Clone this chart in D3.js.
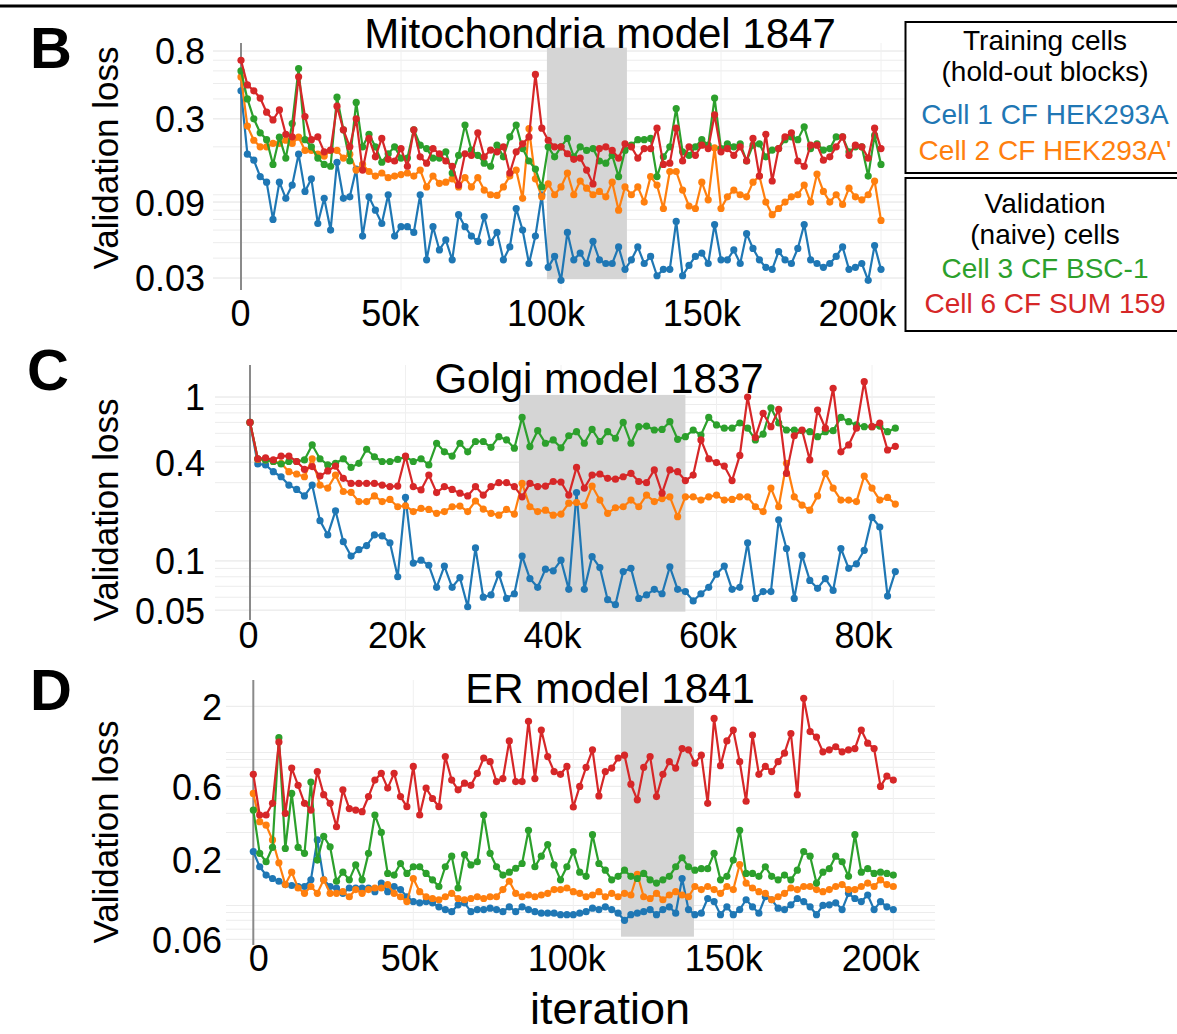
<!DOCTYPE html>
<html>
<head>
<meta charset="utf-8">
<script src="https://cdn.jsdelivr.net/npm/d3@7.9.0/dist/d3.min.js"></script>
<style>
  body { margin: 0; background: #fff; }
  svg text { font-family: "Liberation Sans", Arial, Helvetica, sans-serif; }
</style>
</head>
<body>
<svg id="fig" width="1177" height="1034"></svg>
<script>
// legend / series
const cellNames = ['Cell 1 CF HEK293A', "Cell 2 CF HEK293A'", 'Cell 3 CF BSC-1', 'Cell 6 CF SUM 159'];
const cellColors = ['#1f77b4', '#ff7f0e', '#2ca02c', '#d62728'];

// ---- B: Mitochondria model 1847 (every 2k iterations)
const mitoIter = d3.range(0, 200001, 2000);
const mitoCell1 = [
  0.45, 0.18, 0.165, 0.13, 0.12, 0.07, 0.12, 0.095, 0.115, 0.18,
  0.105, 0.126, 0.066, 0.095, 0.06, 0.16, 0.095, 0.097, 0.145, 0.055,
  0.097, 0.08, 0.066, 0.1, 0.055, 0.063, 0.063, 0.058, 0.1, 0.039,
  0.063, 0.045, 0.052, 0.039, 0.075, 0.063, 0.055, 0.051, 0.073, 0.05,
  0.058, 0.039, 0.047, 0.082, 0.06, 0.037, 0.055, 0.1, 0.035, 0.041,
  0.029, 0.058, 0.039, 0.043, 0.037, 0.051, 0.039, 0.037, 0.037, 0.047,
  0.034, 0.039, 0.047, 0.037, 0.041, 0.031, 0.034, 0.034, 0.068, 0.031,
  0.036, 0.041, 0.043, 0.037, 0.065, 0.039, 0.039, 0.045, 0.037, 0.057,
  0.046, 0.039, 0.035, 0.034, 0.044, 0.039, 0.037, 0.046, 0.065, 0.039,
  0.037, 0.035, 0.037, 0.041, 0.047, 0.034, 0.035, 0.037, 0.029, 0.048,
  0.034
];
const mitoCell2 = [
  0.55, 0.27, 0.22, 0.2, 0.2, 0.21, 0.21, 0.22, 0.21, 0.23,
  0.19, 0.19, 0.18, 0.175, 0.19, 0.19, 0.17, 0.18, 0.143, 0.155,
  0.14, 0.131, 0.137, 0.128, 0.131, 0.134, 0.137, 0.131, 0.143, 0.112,
  0.131, 0.118, 0.12, 0.126, 0.112, 0.128, 0.112, 0.128, 0.107, 0.1,
  0.099, 0.112, 0.131, 0.143, 0.095, 0.26, 0.126, 0.097, 0.117, 0.1,
  0.112, 0.137, 0.1, 0.122, 0.11, 0.1, 0.105, 0.097, 0.12, 0.08,
  0.112, 0.1, 0.112, 0.09, 0.13, 0.115, 0.082, 0.14, 0.14, 0.107,
  0.085, 0.082, 0.12, 0.093, 0.197, 0.082, 0.097, 0.107, 0.1, 0.097,
  0.12, 0.131, 0.09, 0.075, 0.082, 0.09, 0.097, 0.1, 0.115, 0.09,
  0.135, 0.105, 0.09, 0.1, 0.087, 0.11, 0.097, 0.093, 0.1, 0.122,
  0.069
];
const mitoCell3 = [
  0.6, 0.4, 0.3, 0.245, 0.222, 0.155, 0.23, 0.17, 0.28, 0.62,
  0.222, 0.2, 0.17, 0.155, 0.151, 0.41, 0.256, 0.163, 0.38, 0.2,
  0.24, 0.2, 0.16, 0.181, 0.2, 0.17, 0.17, 0.256, 0.205, 0.195,
  0.17, 0.17, 0.186, 0.137, 0.177, 0.274, 0.191, 0.177, 0.158, 0.151,
  0.205, 0.173, 0.231, 0.274, 0.195, 0.163, 0.145, 0.112, 0.2, 0.173,
  0.2, 0.226, 0.173, 0.2, 0.19, 0.195, 0.163, 0.158, 0.177, 0.13,
  0.19, 0.205, 0.222, 0.222, 0.226, 0.13, 0.173, 0.2, 0.348, 0.186,
  0.177, 0.2, 0.222, 0.205, 0.405, 0.195, 0.209, 0.2, 0.209, 0.163,
  0.205, 0.209, 0.173, 0.191, 0.195, 0.222, 0.231, 0.222, 0.267, 0.195,
  0.209, 0.191, 0.195, 0.231, 0.231, 0.186, 0.2, 0.2, 0.131, 0.236,
  0.155
];
const mitoCell6 = [
  0.7, 0.49, 0.45, 0.405, 0.33, 0.295, 0.341, 0.24, 0.231, 0.551,
  0.31, 0.222, 0.231, 0.186, 0.191, 0.36, 0.256, 0.2, 0.3, 0.143,
  0.226, 0.173, 0.226, 0.167, 0.163, 0.195, 0.151, 0.256, 0.173, 0.158,
  0.195, 0.181, 0.163, 0.151, 0.115, 0.181, 0.177, 0.245, 0.173, 0.191,
  0.186, 0.2, 0.137, 0.186, 0.209, 0.231, 0.57, 0.262, 0.22, 0.2,
  0.2, 0.181, 0.167, 0.17, 0.143, 0.117, 0.195, 0.2, 0.19, 0.17,
  0.209, 0.2, 0.17, 0.195, 0.195, 0.262, 0.155, 0.158, 0.262, 0.163,
  0.2, 0.177, 0.205, 0.195, 0.318, 0.186, 0.195, 0.177, 0.2, 0.163,
  0.226, 0.131, 0.24, 0.122, 0.195, 0.231, 0.245, 0.163, 0.151, 0.205,
  0.205, 0.165, 0.173, 0.2, 0.231, 0.177, 0.205, 0.2, 0.17, 0.262,
  0.195
];
const mitoTicksX = [0, 50000, 100000, 150000, 200000];
const mitoTicksY = [0.03, 0.09, 0.3, 0.8];
const mitoHoldout = [95600, 120600];

// ---- C: Golgi model 1837 (every 1k iterations)
const golgiIter = d3.range(0, 83001, 1000);
const golgiCell1 = [
  0.70, 0.39, 0.385, 0.35, 0.326, 0.29, 0.273, 0.249, 0.29, 0.176,
  0.144, 0.202, 0.131, 0.107, 0.117, 0.124, 0.144, 0.142, 0.129, 0.08,
  0.244, 0.097, 0.101, 0.094, 0.069, 0.093, 0.069, 0.079, 0.0525, 0.12,
  0.06, 0.062, 0.083, 0.059, 0.063, 0.107, 0.078, 0.069, 0.089, 0.087,
  0.101, 0.067, 0.261, 0.067, 0.106, 0.091, 0.058, 0.054, 0.086, 0.09,
  0.059, 0.062, 0.067, 0.063, 0.092, 0.067, 0.065, 0.057, 0.063, 0.069,
  0.083, 0.093, 0.067, 0.069, 0.129, 0.059, 0.065, 0.065, 0.178, 0.119,
  0.059, 0.108, 0.076, 0.068, 0.078, 0.066, 0.119, 0.09, 0.096, 0.116,
  0.184, 0.161, 0.061, 0.086
];
const golgiCell2 = [
  0.70, 0.416, 0.413, 0.404, 0.394, 0.35, 0.339, 0.326, 0.42, 0.29,
  0.278, 0.334, 0.265, 0.262, 0.23, 0.23, 0.249, 0.23, 0.237, 0.214,
  0.217, 0.2, 0.209, 0.206, 0.195, 0.2, 0.214, 0.216, 0.2, 0.232,
  0.207, 0.195, 0.19, 0.206, 0.193, 0.297, 0.214, 0.2, 0.204, 0.19,
  0.193, 0.225, 0.227, 0.217, 0.286, 0.235, 0.195, 0.211, 0.214, 0.235,
  0.214, 0.252, 0.23, 0.24, 0.246, 0.186, 0.246, 0.246, 0.235, 0.246,
  0.252, 0.235, 0.237, 0.246, 0.246, 0.214, 0.2, 0.278, 0.214, 0.394,
  0.246, 0.219, 0.204, 0.249, 0.342, 0.278, 0.235, 0.235, 0.23, 0.329,
  0.278, 0.235, 0.244, 0.222
];
const golgiCell3 = [
  0.70, 0.42, 0.413, 0.404, 0.39, 0.404, 0.404, 0.413, 0.51, 0.42,
  0.385, 0.394, 0.42, 0.372, 0.394, 0.48, 0.432, 0.404, 0.404, 0.416,
  0.432, 0.404, 0.42, 0.385, 0.522, 0.463, 0.436, 0.522, 0.463, 0.535,
  0.535, 0.493, 0.573, 0.547, 0.487, 0.75, 0.498, 0.623, 0.522, 0.547,
  0.49, 0.58, 0.614, 0.522, 0.634, 0.535, 0.614, 0.56, 0.70, 0.522,
  0.659, 0.665, 0.629, 0.634, 0.707, 0.552, 0.573, 0.629, 0.586, 0.75,
  0.675, 0.645, 0.645, 0.694, 0.645, 0.547, 0.594, 0.86, 0.694, 0.629,
  0.629, 0.623, 0.614, 0.573, 0.614, 0.623, 0.75, 0.707, 0.675, 0.659,
  0.659, 0.665, 0.614, 0.645
];
const golgiCell6 = [
  0.70, 0.42, 0.426, 0.413, 0.436, 0.436, 0.404, 0.362, 0.376, 0.329,
  0.354, 0.379, 0.319, 0.297, 0.297, 0.297, 0.297, 0.29, 0.284, 0.286,
  0.436, 0.284, 0.271, 0.334, 0.261, 0.284, 0.273, 0.259, 0.249, 0.284,
  0.252, 0.284, 0.3, 0.3, 0.284, 0.246, 0.297, 0.284, 0.286, 0.305,
  0.303, 0.252, 0.372, 0.278, 0.334, 0.339, 0.319, 0.315, 0.326, 0.342,
  0.305, 0.3, 0.359, 0.259, 0.359, 0.35, 0.309, 0.334, 0.547, 0.42,
  0.398, 0.379, 0.309, 0.44, 1.0, 0.567, 0.795, 0.659, 0.84, 0.342,
  0.58, 0.629, 0.413, 0.833, 0.645, 1.13, 0.463, 0.51, 0.645, 1.24,
  0.659, 0.694, 0.475, 0.50
];
const golgiTicksX = [0, 20000, 40000, 60000, 80000];
const golgiTicksY = [0.05, 0.1, 0.4, 1];
const golgiHoldout = [34600, 56000];

// ---- D: ER model 1841 (every 2k iterations)
const erIter = d3.range(0, 200001, 2000);
const erCell1 = [
  0.225, 0.179, 0.158, 0.15, 0.144, 0.137, 0.135, 0.133, 0.133, 0.147,
  0.268, 0.147, 0.133, 0.13, 0.12, 0.13, 0.13, 0.13, 0.13, 0.123,
  0.14, 0.123, 0.133, 0.127, 0.114, 0.106, 0.104, 0.106, 0.104, 0.098,
  0.094, 0.091, 0.101, 0.104, 0.091, 0.094, 0.094, 0.096, 0.094, 0.091,
  0.098, 0.091, 0.098, 0.094, 0.091, 0.089, 0.089, 0.089, 0.087, 0.087,
  0.087, 0.089, 0.091, 0.096, 0.094, 0.098, 0.094, 0.089, 0.08, 0.087,
  0.089, 0.091, 0.094, 0.087, 0.094, 0.098, 0.089, 0.15, 0.094, 0.087,
  0.089, 0.111, 0.106, 0.087, 0.098, 0.087, 0.094, 0.109, 0.098, 0.089,
  0.114, 0.109, 0.096, 0.094, 0.101, 0.111, 0.106, 0.098, 0.087, 0.1,
  0.101, 0.104, 0.094, 0.12, 0.111, 0.106, 0.117, 0.094, 0.106, 0.098,
  0.094
];
const erCell2 = [
  0.54, 0.353, 0.335, 0.268, 0.19, 0.137, 0.165, 0.13, 0.12, 0.133,
  0.12, 0.147, 0.12, 0.12, 0.123, 0.114, 0.127, 0.12, 0.127, 0.13,
  0.13, 0.137, 0.12, 0.114, 0.106, 0.15, 0.123, 0.114, 0.111, 0.109,
  0.114, 0.12, 0.111, 0.109, 0.111, 0.114, 0.111, 0.114, 0.114, 0.127,
  0.144, 0.12, 0.114, 0.117, 0.114, 0.117, 0.12, 0.127, 0.127, 0.13,
  0.123, 0.12, 0.114, 0.117, 0.123, 0.114, 0.12, 0.114, 0.12, 0.117,
  0.16, 0.114, 0.111, 0.12, 0.109, 0.117, 0.123, 0.117, 0.114, 0.133,
  0.127, 0.133, 0.127, 0.12, 0.133, 0.127, 0.185, 0.14, 0.13, 0.123,
  0.12, 0.109, 0.114, 0.12, 0.13, 0.127, 0.133, 0.133, 0.127, 0.123,
  0.127, 0.133, 0.137, 0.127, 0.127, 0.133, 0.14, 0.133, 0.147, 0.137,
  0.133
];
const erCell3 = [
  0.42, 0.219, 0.193, 0.24, 1.25, 0.236, 0.54, 0.24, 0.219, 0.64,
  0.198, 0.283, 0.242, 0.144, 0.165, 0.147, 0.184, 0.147, 0.219, 0.39,
  0.3, 0.162, 0.158, 0.188, 0.162, 0.179, 0.179, 0.162, 0.147, 0.133,
  0.179, 0.21, 0.13, 0.215, 0.184, 0.193, 0.39, 0.219, 0.179, 0.158,
  0.165, 0.175, 0.188, 0.31, 0.179, 0.21, 0.25, 0.184, 0.147, 0.179,
  0.225, 0.165, 0.155, 0.29, 0.188, 0.17, 0.147, 0.155, 0.17, 0.155,
  0.15, 0.162, 0.147, 0.14, 0.147, 0.155, 0.179, 0.205, 0.179, 0.17,
  0.174, 0.174, 0.219, 0.147, 0.155, 0.198, 0.31, 0.162, 0.162, 0.155,
  0.179, 0.155, 0.147, 0.158, 0.147, 0.17, 0.225, 0.21, 0.14, 0.165,
  0.174, 0.21, 0.193, 0.155, 0.29, 0.165, 0.174, 0.162, 0.165, 0.162,
  0.158
];
const erCell6 = [
  0.72, 0.39, 0.39, 0.465, 1.17, 0.4, 0.79, 0.61, 0.465, 0.42,
  0.75, 0.53, 0.465, 0.327, 0.57, 0.43, 0.42, 0.41, 0.515, 0.66,
  0.73, 0.585, 0.73, 0.515, 0.442, 0.81, 0.39, 0.585, 0.5, 0.442,
  0.94, 0.66, 0.57, 0.63, 0.61, 0.73, 0.92, 0.87, 0.645, 0.675,
  1.19, 0.645, 0.645, 1.6, 0.675, 1.4, 0.94, 0.75, 0.72, 0.81,
  0.44, 0.6, 0.8, 1.04, 0.52, 0.75, 0.79, 0.92, 0.96, 0.62,
  0.49, 0.8, 0.94, 0.515, 0.72, 0.87, 0.79, 1.06, 1.04, 0.85,
  0.96, 0.465, 1.67, 0.82, 1.19, 1.4, 0.87, 0.48, 1.3, 0.72,
  0.81, 0.75, 0.87, 0.99, 1.33, 0.53, 2.26, 1.37, 1.26, 1.01,
  1.04, 1.09, 1.01, 1.04, 1.06, 1.4, 1.15, 1.06, 0.6, 0.7,
  0.66
];
const erTicksX = [0, 50000, 100000, 150000, 200000];
const erTicksY = [0.06, 0.2, 0.6, 2];
const erHoldout = [114900, 137700];

const svg = d3.select('#fig');
svg.append('rect').attr('width', 1177).attr('height', 1034).attr('fill', '#fff');

const kFormat = d => d === 0 ? '0' : (d / 1000) + 'k';

function drawPanel(p) {
  const g = svg.append('g');
  const x = d3.scaleLinear().domain([0, p.xCal]).range(p.xRange);
  const y = d3.scaleLog().domain(p.yCal).range(p.yRange);
  const box = p.box; // plot area in pixels

  // faint log gridlines
  const vTop = y.invert(box.top), vBot = y.invert(box.bottom);
  const minor = [];
  for (let e = -3; e <= 1; e++) {
    for (let m = 1; m <= 9; m++) {
      const v = m * Math.pow(10, e);
      if (v >= vBot && v <= vTop) minor.push(v);
    }
  }
  g.append('g').selectAll('line').data(minor.concat(p.yTicks)).join('line')
    .attr('x1', box.left).attr('x2', box.right)
    .attr('y1', d => y(d)).attr('y2', d => y(d))
    .attr('stroke', '#ececec').attr('stroke-width', 1);
  g.append('g').selectAll('line').data(p.xTicks.filter(d => d > 0)).join('line')
    .attr('x1', d => x(d)).attr('x2', d => x(d))
    .attr('y1', box.top).attr('y2', box.bottom)
    .attr('stroke', '#f0f0f0').attr('stroke-width', 1);

  // hold-out shading
  g.append('rect')
    .attr('x', x(p.band[0])).attr('width', x(p.band[1]) - x(p.band[0]))
    .attr('y', y(p.bandY[0])).attr('height', y(p.bandY[1]) - y(p.bandY[0]))
    .attr('fill', '#d5d5d5');

  // zero line
  g.append('line')
    .attr('x1', x(0)).attr('x2', x(0))
    .attr('y1', box.top).attr('y2', box.bottom)
    .attr('stroke', '#8a8a8a').attr('stroke-width', 2);

  const line = d3.line().x(d => x(d[0])).y(d => y(d[1]));
  p.series.forEach((vals, i) => {
    const pts = vals.map((v, j) => [p.iter[j], v]);
    const s = g.append('g');
    s.append('path').datum(pts)
      .attr('d', line).attr('fill', 'none')
      .attr('stroke', cellColors[i]).attr('stroke-width', 2.2).attr('stroke-linejoin', 'round');
    s.selectAll('circle').data(pts).join('circle')
      .attr('cx', d => x(d[0])).attr('cy', d => y(d[1]))
      .attr('r', 3.6).attr('fill', cellColors[i]);
  });

  // y tick labels
  const ya = g.append('g')
    .attr('transform', `translate(${p.yLabelRight},0)`)
    .call(d3.axisLeft(y).tickValues(p.yTicks).tickSize(0).tickPadding(0).tickFormat(d => String(d)));
  ya.select('.domain').remove();
  ya.selectAll('text')
    .attr('x', 0).attr('dy', '0.36em')
    .style('font-size', '36px').style('font-family', '"Liberation Sans", Arial, sans-serif')
    .attr('fill', '#000');

  // x tick labels
  const xa = g.append('g')
    .attr('transform', `translate(0,${p.xLabelBase})`)
    .call(d3.axisBottom(x).tickValues(p.xTicks).tickSize(0).tickFormat(kFormat));
  xa.select('.domain').remove();
  xa.selectAll('text')
    .attr('y', 0).attr('dy', 0).attr('dx', p.xDx)
    .style('font-size', '36px').style('font-family', '"Liberation Sans", Arial, sans-serif')
    .attr('fill', '#000');

  // title, axis title, panel letter
  g.append('text').attr('x', p.title[1]).attr('y', p.title[2])
    .attr('text-anchor', 'middle').style('font-size', '42px').text(p.title[0]);
  g.append('text')
    .attr('transform', `translate(118,${p.yTitleY}) rotate(-90)`)
    .attr('text-anchor', 'middle').style('font-size', '35px').text('Validation loss');
  g.append('text').attr('x', p.letter[1]).attr('y', p.letter[2])
    .style('font-size', '58px').style('font-weight', 'bold').text(p.letter[0]);
}

drawPanel({
  iter: mitoIter, series: [mitoCell1, mitoCell2, mitoCell3, mitoCell6],
  xCal: 200000, xRange: [241, 881], yCal: [0.8, 0.03], yRange: [51, 278],
  box: { left: 213, right: 935, top: 43, bottom: 290 },
  band: mitoHoldout, bandY: [0.84, 0.0295],
  xTicks: mitoTicksX, yTicks: mitoTicksY,
  yLabelRight: 205, xLabelBase: 326,
  xDx: d => d === 0 ? -1 : -7 - d / 200000 * 17,
  title: ['Mitochondria model 1847', 600, 48], yTitleY: 158, letter: ['B', 30, 68]
});

drawPanel({
  iter: golgiIter, series: [golgiCell1, golgiCell2, golgiCell3, golgiCell6],
  xCal: 80000, xRange: [250, 872], yCal: [1, 0.05], yRange: [397, 610.2],
  box: { left: 215, right: 935, top: 365, bottom: 620 },
  band: golgiHoldout, bandY: [1.03, 0.049],
  xTicks: golgiTicksX, yTicks: golgiTicksY,
  yLabelRight: 205, xLabelBase: 648,
  xDx: d => d === 0 ? -2 : -9,
  title: ['Golgi model 1837', 599, 393], yTitleY: 510, letter: ['C', 27, 390]
});

drawPanel({
  iter: erIter, series: [erCell1, erCell2, erCell3, erCell6],
  xCal: 200000, xRange: [253.3, 893.3], yCal: [2, 0.06], yRange: [706.4, 939.4],
  box: { left: 226, right: 935, top: 680, bottom: 945 },
  band: erHoldout, bandY: [2.01, 0.0625],
  xTicks: erTicksX, yTicks: erTicksY,
  yLabelRight: 222, xLabelBase: 971,
  xDx: d => d === 0 ? 5 : -1 - d / 200000 * 12,
  title: ['ER model 1841', 610, 703], yTitleY: 832, letter: ['D', 30, 710]
});

svg.append('text').attr('x', 610).attr('y', 1024)
  .attr('text-anchor', 'middle').style('font-size', '45px').text('iteration');

// top rule
svg.append('line').attr('x1', 0).attr('x2', 1177).attr('y1', 6).attr('y2', 6)
  .attr('stroke', '#000').attr('stroke-width', 3);

// legend boxes
const legend = svg.append('g');
legend.append('rect').attr('x', 905.5).attr('y', 22).attr('width', 300).attr('height', 151)
  .attr('fill', '#fff').attr('stroke', '#000').attr('stroke-width', 2);
legend.append('rect').attr('x', 905.5).attr('y', 178).attr('width', 300).attr('height', 153)
  .attr('fill', '#fff').attr('stroke', '#000').attr('stroke-width', 2);

const legendHeads = [['Training cells', 50], ['(hold-out blocks)', 81], ['Validation', 213], ['(naive) cells', 244]];
legend.selectAll('text.head').data(legendHeads).join('text')
  .attr('class', 'head')
  .attr('x', 1045).attr('y', d => d[1]).attr('text-anchor', 'middle')
  .style('font-size', '28px').attr('fill', '#000').text(d => d[0]);

const legendRows = [124, 160, 278, 313];
legend.selectAll('text.cell').data(cellNames).join('text')
  .attr('class', 'cell')
  .attr('x', 1045).attr('y', (d, i) => legendRows[i]).attr('text-anchor', 'middle')
  .style('font-size', '28px').attr('fill', (d, i) => cellColors[i]).text(d => d);
</script>
</body>
</html>
